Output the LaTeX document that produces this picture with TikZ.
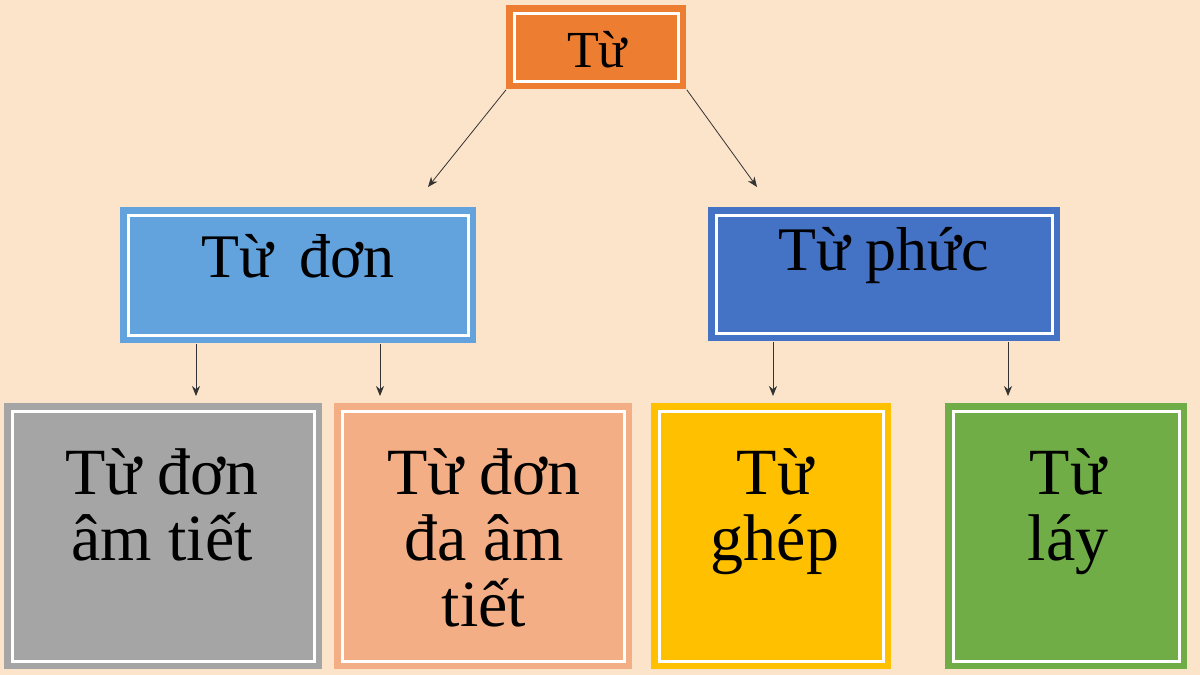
\documentclass[tikz,border=0pt]{standalone}
\usepackage{fontspec}
\setmainfont{Liberation Serif}
\usetikzlibrary{arrows.meta}

\definecolor{bgpeach}{HTML}{FCE4CA}
\definecolor{cTop}{HTML}{ED7D31}
\definecolor{cLight}{HTML}{62A3DE}
\definecolor{cDark}{HTML}{4472C4}
\definecolor{cGray}{HTML}{A5A5A5}
\definecolor{cSalmon}{HTML}{F3AE85}
\definecolor{cYellow}{HTML}{FFC000}
\definecolor{cGreen}{HTML}{70AD47}

\tikzset{
  box/.style={fill=#1, draw=none, inner sep=0pt, anchor=north west,
    path picture={\draw[white,line width=1.4pt]
      ([shift={(4pt,-4pt)}]path picture bounding box.north west) rectangle
      ([shift={(-4pt,4pt)}]path picture bounding box.south east);}},
  arr/.style={-{Stealth[length=5pt,width=4pt]}, thin, black!80},
  txt/.style={font=\fontsize{#1}{#1}\selectfont, inner sep=0pt}
}

\begin{document}
\begin{tikzpicture}[x=0.5pt,y=-0.5pt]
\fill[bgpeach] (0,0) rectangle (1200,675);
\useasboundingbox (0,0) rectangle (1200,675);

% top row
\node[box=cTop, minimum width=90pt, minimum height=42pt] (tu) at (506,5) {};
\node[txt=26pt] (tuT) at (597,50) {Từ};

% middle row
\node[box=cLight, minimum width=178pt, minimum height=68pt] (don) at (120,207) {};
\node[txt=31pt] (donT) at (298,256) {Từ\, đơn};
\node[box=cDark, minimum width=176pt, minimum height=67pt] (phuc) at (708,207) {};
\node[txt=31pt] (phucT) at (884,256) {Từ phức};

% bottom row
\node[box=cGray, minimum width=159pt, minimum height=133pt] (b1) at (4,403) {};
\node[box=cSalmon, minimum width=149pt, minimum height=133pt] (b2) at (334,403) {};
\node[box=cYellow, minimum width=120pt, minimum height=133pt] (b3) at (651,403) {};
\node[box=cGreen, minimum width=121pt, minimum height=133pt] (b4) at (945,403) {};

\node[txt=33pt, align=center, anchor=north] (b1T) at (162,448)
  {\baselineskip=35pt Từ đơn\\âm tiết};
\node[txt=33pt, align=center, anchor=north] (b2T) at (484,448)
  {\baselineskip=36pt Từ đơn\\đa âm\\tiết};
\node[txt=33pt, align=center, anchor=north] (b3T) at (775,448)
  {\baselineskip=57pt Từ\\ghép};
\node[txt=33pt, align=center, anchor=north] (b4T) at (1068,448)
  {\baselineskip=57pt Từ\\láy};

% connectors
\coordinate (a1) at (428,187);
\coordinate (a2) at (757,187);
\coordinate (a3) at (196,396);
\coordinate (a4) at (380,396);
\coordinate (a5) at (773,396);
\coordinate (a6) at (1008,396);
\draw[arr] (tu.south west) -- (a1);
\draw[arr] (tu.south east) -- (a2);
\draw[arr] (don.south -| a3) -- (a3);
\draw[arr] (don.south -| a4) -- (a4);
\draw[arr] (phuc.south -| a5) -- (a5);
\draw[arr] (phuc.south -| a6) -- (a6);
\end{tikzpicture}
\end{document}
